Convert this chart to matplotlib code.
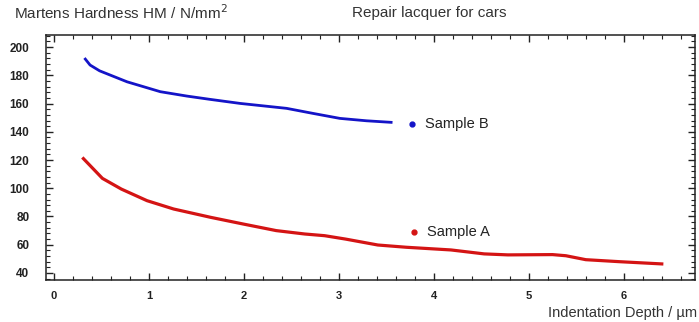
import matplotlib
matplotlib.use("Agg")
from matplotlib import pyplot as plt
from matplotlib.ticker import MultipleLocator

plt.rcParams['font.family'] = ['Liberation Sans', 'DejaVu Sans']

# indentation depth (um) / Martens hardness (N/mm2)
depth_b = [0.33, 0.38, 0.48, 0.77, 1.12, 1.40, 1.64, 1.96, 2.45, 2.73, 3.01, 3.29, 3.55]
hm_b = [191.5, 187.3, 183.2, 175.4, 168.4, 165.3, 163.0, 160.1, 156.6, 153.0, 149.5, 147.8, 146.7]

depth_a = [0.31, 0.51, 0.71, 0.98, 1.26, 1.65, 1.99, 2.34, 2.64, 2.85, 3.07, 3.41,
           3.71, 4.18, 4.53, 4.78, 5.25, 5.39, 5.60, 5.95, 6.40]
hm_a = [121.0, 107.0, 99.4, 91.2, 85.3, 79.4, 74.7, 70.0, 67.6, 66.4, 64.0, 59.8,
        58.2, 56.3, 53.5, 52.8, 53.0, 52.2, 49.4, 48.0, 46.4]

labels = ['Sample A', 'Sample B']
label_x = [3.79, 3.77]
label_y = [68.8, 145.5]
colors = ['#d41414', '#1414c8']

fig = plt.figure(figsize=(6.99, 3.22), dpi=100)
ax = fig.add_axes([0.0658, 0.1304, 0.9285, 0.7606])

ax.plot(depth_b, hm_b, color=colors[1], lw=2.0, solid_joinstyle='round')
ax.plot(depth_a, hm_a, color=colors[0], lw=2.3, solid_joinstyle='round')

for lab, lx, ly, c in zip(labels, label_x, label_y, colors):
    ax.plot([lx], [ly], 'o', color=c, ms=3.5)
    ax.text(lx + 0.14, ly, lab, fontsize=10.5, color='#222222', va='center', ha='left')

ax.set_xlim(-0.084, 6.75)
ax.set_ylim(35, 208.5)
ax.xaxis.set_major_locator(MultipleLocator(1))
ax.xaxis.set_minor_locator(MultipleLocator(0.2))
ax.yaxis.set_major_locator(MultipleLocator(20))
ax.yaxis.set_minor_locator(MultipleLocator(4))
ax.set_yticks(range(40, 201, 20))

ax.tick_params(which='both', direction='in', top=True, right=True, color='#222222')
ax.tick_params(which='major', length=5, width=1)
ax.tick_params(which='minor', length=3, width=0.8)
ax.tick_params(axis='x', pad=8, labelsize=8)
ax.tick_params(axis='y', pad=12, labelsize=8.5)
for lab in ax.get_xticklabels() + ax.get_yticklabels():
    lab.set_fontweight('bold')
    lab.set_color('#222222')
for sp in ax.spines.values():
    sp.set_linewidth(1.1)
    sp.set_color('#222222')

fig.text(14 / 699, 1 - 13 / 322, 'Martens Hardness HM / N/mm$^2$', fontsize=11,
         color='#333333', va='center', ha='left')
fig.text(352 / 699, 1 - 13 / 322, 'Repair lacquer for cars', fontsize=11,
         color='#333333', va='center', ha='left')
fig.text(697 / 699, 1 - 313 / 322, 'Indentation Depth / µm', fontsize=10.5,
         color='#333333', va='center', ha='right')

fig.savefig('out.png', dpi=100, facecolor='white')
